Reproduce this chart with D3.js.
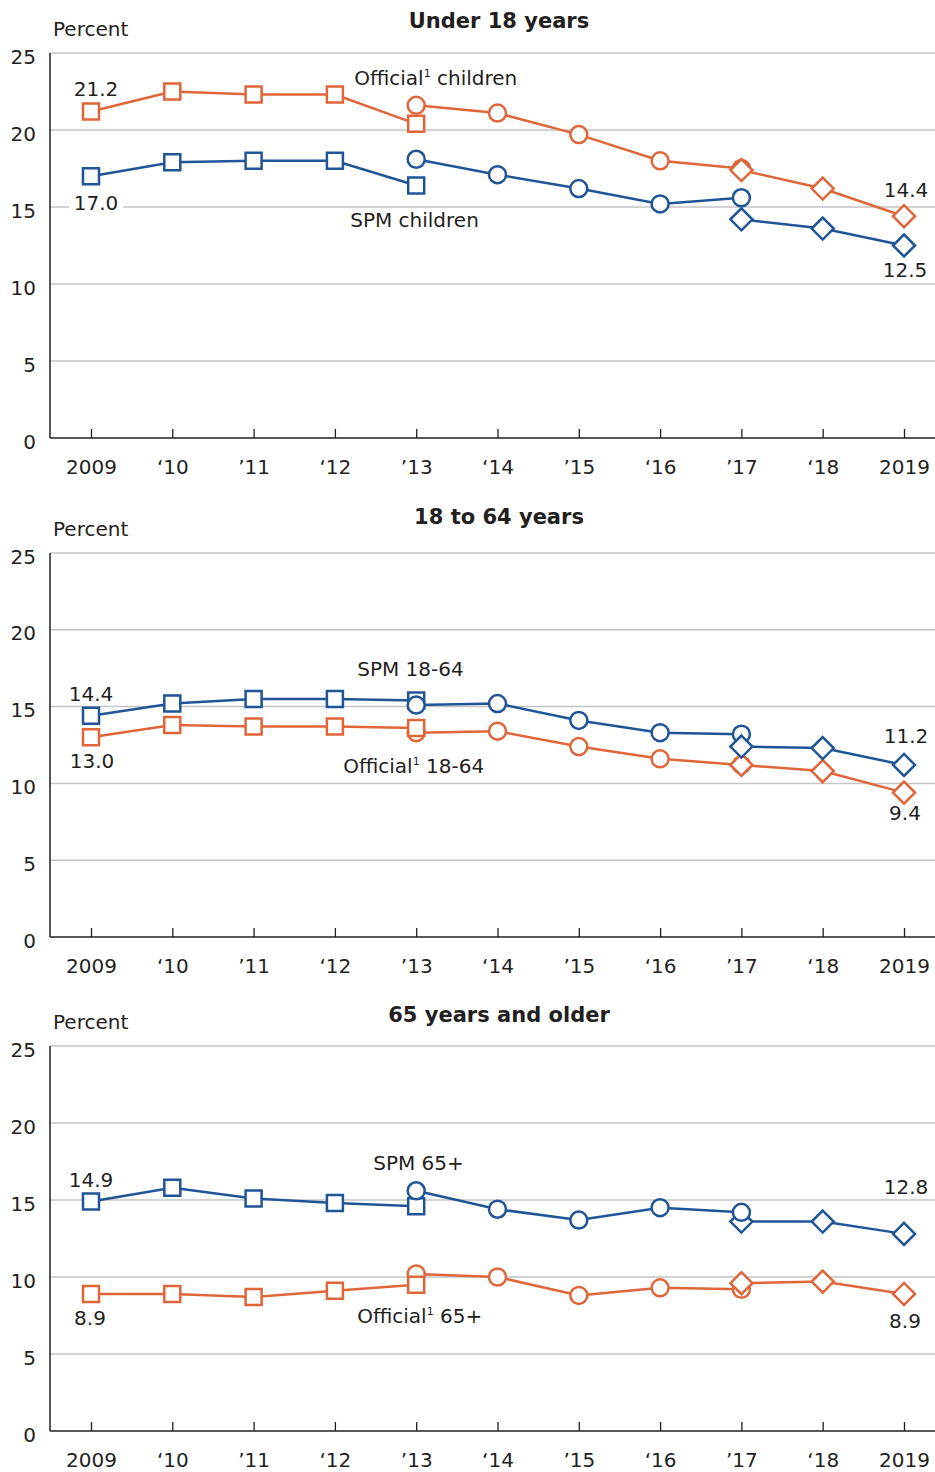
<!DOCTYPE html>
<html><head><meta charset="utf-8">
<script src="https://cdn.jsdelivr.net/npm/d3@7/dist/d3.min.js"></script>
<style>
body{margin:0;background:#fff}
svg{display:block}
text{font-family:"DejaVu Sans",sans-serif;fill:#231f20}
</style>
</head><body><svg id="c" width="935" height="1472"></svg>
<script>
// ---------- DATA ----------
const years = [2009, 2010, 2011, 2012, 2013, 2014, 2015, 2016, 2017, 2018, 2019];
const tickLabels = ["2009", "\u201810", "\u201911", "\u201812", "\u201913", "\u201814", "\u201915", "\u201816", "\u201917", "\u201818", "2019"];
const yTicks = [0, 5, 10, 15, 20, 25];
const panelTitles = ["Under 18 years", "18 to 64 years", "65 years and older"];

// segments: A = 2009-2013 (squares), B = 2013-2017 (circles), C = 2017-2019 (diamonds)
const officialChildrenA = [21.2, 22.5, 22.3, 22.3, 20.4];
const officialChildrenB = [21.6, 21.1, 19.7, 18.0, 17.5];
const officialChildrenC = [17.4, 16.2, 14.4];
const spmChildrenA = [17.0, 17.9, 18.0, 18.0, 16.4];
const spmChildrenB = [18.1, 17.1, 16.2, 15.2, 15.6];
const spmChildrenC = [14.2, 13.6, 12.5];

const spmAdultsA = [14.4, 15.2, 15.5, 15.5, 15.4];
const spmAdultsB = [15.1, 15.2, 14.1, 13.3, 13.2];
const spmAdultsC = [12.4, 12.3, 11.2];
const officialAdultsA = [13.0, 13.8, 13.7, 13.7, 13.6];
const officialAdultsB = [13.3, 13.4, 12.4, 11.6, 11.2];
const officialAdultsC = [11.2, 10.8, 9.4];

const spmElderlyA = [14.9, 15.8, 15.1, 14.8, 14.6];
const spmElderlyB = [15.6, 14.4, 13.7, 14.5, 14.2];
const spmElderlyC = [13.6, 13.6, 12.8];
const officialElderlyA = [8.9, 8.9, 8.7, 9.1, 9.5];
const officialElderlyB = [10.2, 10.0, 8.8, 9.3, 9.2];
const officialElderlyC = [9.6, 9.7, 8.9];

// ---------- STYLE / LAYOUT ----------
const ORANGE = "#E0663A", BLUE = "#1F5597";
const panelLayout = [
  {top: 53, bottom: 438, titleDy: -25},
  {top: 553, bottom: 937, titleDy: -29},
  {top: 1046, bottom: 1431, titleDy: -24}
];
const LEFT = 50, RIGHT = 935;
const FS = 20;

function seg(vals, kind) {
  const ys = kind === "square" ? years.slice(0, 5) : kind === "circle" ? years.slice(4, 9) : years.slice(8);
  return {kind, pts: ys.map((y, i) => ({year: y, v: vals[i]}))};
}

const panels = [
  {
    series: [
      {color: ORANGE, segs: [seg(officialChildrenA, "square"), seg(officialChildrenB, "circle"), seg(officialChildrenC, "diamond")]},
      {color: BLUE, segs: [seg(spmChildrenA, "square"), seg(spmChildrenB, "circle"), seg(spmChildrenC, "diamond")]}
    ],
    values: [
      {t: "21.2", year: 2009, v: officialChildrenA[0], dx: 5, dy: -16},
      {t: "17.0", year: 2009, v: spmChildrenA[0], dx: 5, dy: 34, bg: true},
      {t: "14.4", year: 2019, v: officialChildrenC[2], dx: 2, dy: -19},
      {t: "12.5", year: 2019, v: spmChildrenC[2], dx: 1, dy: 31}
    ],
    names: [
      {main: "Official", sup: "1", rest: " children", year: 2013, v: officialChildrenB[0], dx: -62, dy: -20},
      {main: "SPM children", year: 2013, v: spmChildrenA[4], dx: -66, dy: 42}
    ]
  },
  {
    series: [
      {color: ORANGE, segs: [seg(officialAdultsB, "circle"), seg(officialAdultsA, "square"), seg(officialAdultsC, "diamond")]},
      {color: BLUE, segs: [seg(spmAdultsA, "square"), seg(spmAdultsB, "circle"), seg(spmAdultsC, "diamond")]}
    ],
    values: [
      {t: "14.4", year: 2009, v: spmAdultsA[0], dx: 0, dy: -15},
      {t: "13.0", year: 2009, v: officialAdultsA[0], dx: 1, dy: 31},
      {t: "11.2", year: 2019, v: spmAdultsC[2], dx: 2, dy: -22},
      {t: "9.4", year: 2019, v: officialAdultsC[2], dx: 1, dy: 27}
    ],
    names: [
      {main: "SPM 18-64", year: 2013, v: spmAdultsA[4], dx: -59, dy: -24},
      {main: "Official", sup: "1", rest: " 18-64", year: 2013, v: officialAdultsB[0], dx: -73, dy: 40}
    ]
  },
  {
    series: [
      {color: ORANGE, segs: [seg(officialElderlyB, "circle"), seg(officialElderlyA, "square"), seg(officialElderlyC, "diamond")]},
      {color: BLUE, segs: [seg(spmElderlyA, "square"), seg(spmElderlyC, "diamond"), seg(spmElderlyB, "circle")]}
    ],
    values: [
      {t: "14.9", year: 2009, v: spmElderlyA[0], dx: 0, dy: -15},
      {t: "8.9", year: 2009, v: officialElderlyA[0], dx: -1, dy: 31},
      {t: "12.8", year: 2019, v: spmElderlyC[2], dx: 2, dy: -40},
      {t: "8.9", year: 2019, v: officialElderlyC[2], dx: 1, dy: 34}
    ],
    names: [
      {main: "SPM 65+", year: 2013, v: spmElderlyB[0], dx: -43, dy: -21},
      {main: "Official", sup: "1", rest: " 65+", year: 2013, v: officialElderlyA[4], dx: -59, dy: 38}
    ]
  }
];

// ---------- DRAW ----------
const svg = d3.select("#c");
const x = d3.scalePoint().domain(years).range([91, 904]);

function markerPath(kind) {
  if (kind === "square") return "M-8,-8H8V8H-8Z";
  if (kind === "diamond") return "M0,-11L11,0L0,11L-11,0Z";
  return null;
}

panels.forEach((p, pi) => {
  const L = panelLayout[pi];
  const y = d3.scaleLinear().domain([0, 25]).range([L.bottom, L.top]);
  const g = svg.append("g");

  // title
  g.append("text").attr("x", 499).attr("y", L.top + L.titleDy)
    .attr("text-anchor", "middle").style("font-weight", "bold").style("font-size", "21px")
    .text(panelTitles[pi]);
  g.append("text").attr("x", 53).attr("y", L.top - 17).style("font-size", FS + "px").text("Percent");

  // gridlines
  g.selectAll(".grid").data(yTicks.filter(d => d > 0)).join("line")
    .attr("x1", LEFT).attr("x2", RIGHT)
    .attr("y1", d => y(d)).attr("y2", d => y(d))
    .attr("stroke", "#c4c4c4").attr("stroke-width", 1.5);

  // y axis labels
  const yAxis = d3.axisLeft(y).tickValues(yTicks).tickSize(0).tickPadding(14);
  const ya = g.append("g").attr("transform", `translate(${LEFT},0)`).call(yAxis);
  ya.select(".domain").remove();
  ya.selectAll("text").style("font-size", FS + "px").style("font-family", '"DejaVu Sans",sans-serif')
    .attr("fill", "#231f20").attr("dy", "0.5em");

  // left axis line
  g.append("line").attr("x1", LEFT).attr("x2", LEFT).attr("y1", L.top).attr("y2", L.bottom)
    .attr("stroke", "#231f20").attr("stroke-width", 1.5);

  // x axis
  const xAxis = d3.axisBottom(x).tickSize(-9).tickPadding(0).tickFormat((d, i) => tickLabels[i]);
  const xa = g.append("g").attr("transform", `translate(0,${L.bottom})`).call(xAxis);
  xa.select(".domain").remove();
  xa.selectAll(".tick line").attr("stroke", "#231f20").attr("stroke-width", 1.3);
  xa.selectAll("text").style("font-size", FS + "px").style("font-family", '"DejaVu Sans",sans-serif')
    .attr("fill", "#231f20").attr("y", 36).attr("dy", 0);
  g.append("line").attr("x1", LEFT).attr("x2", RIGHT).attr("y1", L.bottom).attr("y2", L.bottom)
    .attr("stroke", "#231f20").attr("stroke-width", 1.5);

  // value labels
  p.values.forEach(a => {
    const tx = x(a.year) + a.dx, ty = y(a.v) + a.dy;
    if (a.bg) {
      g.append("rect").attr("x", tx - 27).attr("y", ty - 16).attr("width", 54).attr("height", 20).attr("fill", "#fff");
    }
    g.append("text").attr("x", tx).attr("y", ty).attr("text-anchor", "middle")
      .style("font-size", FS + "px").text(a.t);
  });

  // series name labels
  p.names.forEach(n => {
    const t = g.append("text").attr("x", x(n.year) + n.dx).attr("y", y(n.v) + n.dy).style("font-size", FS + "px");
    t.append("tspan").text(n.main);
    if (n.sup) {
      t.append("tspan").attr("dy", -8).style("font-size", "11px").text(n.sup);
      t.append("tspan").attr("dy", 8).text(n.rest);
    }
  });

  // series
  const line = d3.line().x(d => x(d.year)).y(d => y(d.v));
  p.series.forEach(s => {
    const sg = g.append("g");
    s.segs.forEach(sgm => {
      sg.append("path").attr("d", line(sgm.pts)).attr("fill", "none")
        .attr("stroke", s.color).attr("stroke-width", 2.5);
    });
    s.segs.forEach(sgm => {
      sgm.pts.forEach(d => {
        if (sgm.kind === "circle") {
          sg.append("circle").attr("cx", x(d.year)).attr("cy", y(d.v)).attr("r", 8.5)
            .attr("fill", "#fff").attr("stroke", s.color).attr("stroke-width", 2.5);
        } else {
          sg.append("path").attr("d", markerPath(sgm.kind))
            .attr("transform", `translate(${x(d.year)},${y(d.v)})`)
            .attr("fill", "#fff").attr("stroke", s.color).attr("stroke-width", 2.5);
        }
      });
    });
  });
});
</script>
</body></html>
